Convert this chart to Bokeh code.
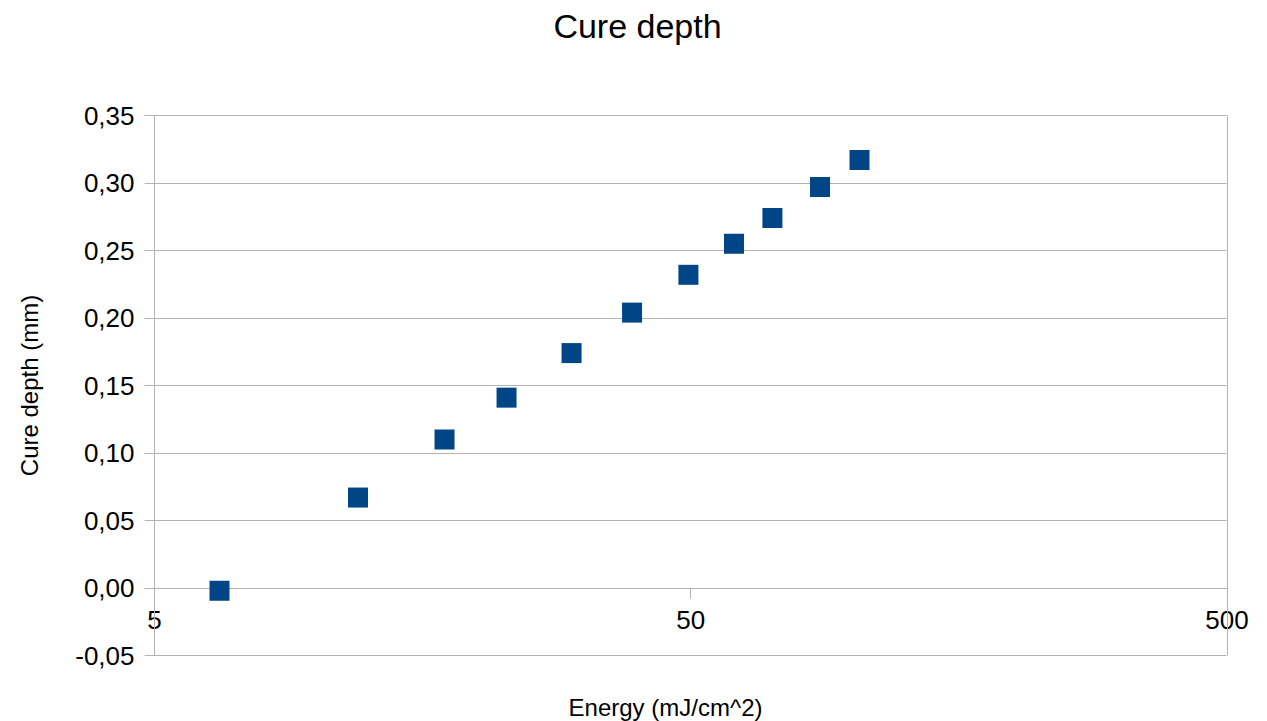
from bokeh.plotting import figure
from bokeh.models import (LogAxis, LinearAxis, FixedTicker, CustomJSTickFormatter,
                          Range1d, Label, ColumnDataSource, Grid)
from bokeh.embed import file_html
from bokeh.resources import INLINE
import math

# ---- data ----
energy = [6.61, 11.98, 17.37, 22.67, 29.97, 38.86, 49.5, 60.2, 71.0, 87.1, 103.2]
depth = [-0.002, 0.067, 0.110, 0.141, 0.174, 0.204, 0.232, 0.255, 0.274, 0.297, 0.317]
x_ticks = [5, 50, 500]
y_ticks = [-0.05, 0.0, 0.05, 0.10, 0.15, 0.20, 0.25, 0.30, 0.35]
title_text = "Cure depth"
x_label = "Energy (mJ/cm^2)"
y_label = "Cure depth (mm)"

# ---- layout (pixels) ----
W, H = 1267, 721
PLOT_L, PLOT_R, PLOT_T, PLOT_B = 154.0, 1226.5, 115.0, 655.0
X0, X1 = x_ticks[0], x_ticks[-1]
Y0, Y1 = y_ticks[0], y_ticks[-1]

FONT = "Liberation Sans"
GRAY = "#b3b3b3"
BLUE = "#004586"

# the plotting frame covers the whole canvas; the chart box is drawn by axes
dec_px = (PLOT_R - PLOT_L) / (math.log10(X1) - math.log10(X0))
xr_start = 10 ** (math.log10(X0) - PLOT_L / dec_px)
xr_end = 10 ** (math.log10(X1) + (W - PLOT_R) / dec_px)
unit_px = (PLOT_B - PLOT_T) / (Y1 - Y0)
yr_start = Y0 - (H - PLOT_B) / unit_px
yr_end = Y1 + PLOT_T / unit_px

p = figure(width=W, height=H, output_backend="svg", toolbar_location=None,
           x_axis_type="log", x_axis_location=None, y_axis_location=None,
           x_range=Range1d(xr_start, xr_end), y_range=Range1d(yr_start, yr_end),
           min_border=0, min_border_left=0, min_border_right=0,
           min_border_top=0, min_border_bottom=0)
p.outline_line_color = None
p.background_fill_color = "white"
p.border_fill_color = "white"
p.center = [c for c in p.center if not isinstance(c, Grid)]

# y axis at x = 5; long inward ticks form the horizontal grid lines
yaxis = LinearAxis(ticker=FixedTicker(ticks=y_ticks), fixed_location=X0, bounds=(Y0, Y1),
                   formatter=CustomJSTickFormatter(code="return tick.toFixed(2).replace('.', ',');"),
                   axis_label=y_label, level="underlay")
yaxis.axis_label_text_font = FONT
yaxis.axis_label_text_font_size = "24px"
yaxis.axis_label_text_font_style = "normal"
yaxis.axis_label_text_color = "black"
yaxis.axis_label_standoff = 29
yaxis.major_label_text_font = FONT
yaxis.major_label_text_font_size = "26px"
yaxis.major_label_text_color = "black"
yaxis.major_label_standoff = 10
yaxis.major_tick_out = 10
yaxis.major_tick_in = int(round(PLOT_R - PLOT_L))
yaxis.minor_tick_out = 0
yaxis.minor_tick_in = 0
yaxis.major_tick_line_color = GRAY
yaxis.axis_line_color = GRAY
p.add_layout(yaxis, "left")

# right edge of the chart box
raxis = LinearAxis(ticker=FixedTicker(ticks=[]), fixed_location=X1, bounds=(Y0, Y1),
                   formatter=CustomJSTickFormatter(code="return '';"), level="underlay")
raxis.major_tick_out = 0
raxis.major_tick_in = 0
raxis.minor_tick_out = 0
raxis.minor_tick_in = 0
raxis.axis_line_color = GRAY
p.add_layout(raxis, "right")

# x axis crossing at y = 0
xaxis = LogAxis(ticker=FixedTicker(ticks=x_ticks), fixed_location=0, bounds=(X0, X1),
                formatter=CustomJSTickFormatter(code="return String(Math.round(tick));"),
                level="underlay")
xaxis.major_label_text_font = FONT
xaxis.major_label_text_font_size = "26px"
xaxis.major_label_text_color = "black"
xaxis.major_label_standoff = 13
xaxis.major_tick_out = 10
xaxis.major_tick_in = 0
xaxis.minor_tick_out = 0
xaxis.minor_tick_in = 0
xaxis.major_tick_line_color = GRAY
xaxis.axis_line_color = GRAY
p.add_layout(xaxis, "below")

p.add_layout(Label(x=637, y=H - 25, x_units="screen", y_units="screen", text=title_text,
                   text_align="center", text_baseline="middle",
                   text_font=FONT, text_font_size="34px", text_color="black"))
p.add_layout(Label(x=665, y=H - 707, x_units="screen", y_units="screen", text=x_label,
                   text_align="center", text_baseline="middle",
                   text_font=FONT, text_font_size="24px", text_color="black"))

src = ColumnDataSource(data=dict(x=energy, y=depth))
p.scatter("x", "y", source=src, marker="square", size=20,
          fill_color=BLUE, line_color=BLUE, line_width=0)

open("out.html", "w").write(file_html(p, INLINE))
